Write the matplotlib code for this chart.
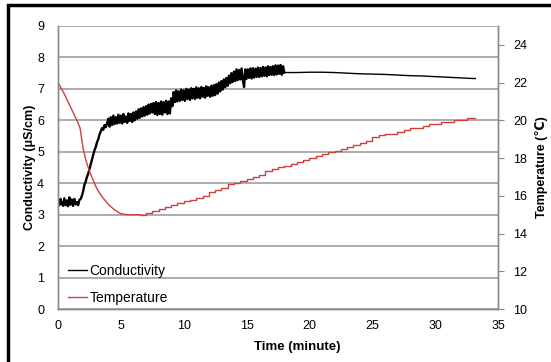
import numpy as np
import matplotlib
matplotlib.use("Agg")
import matplotlib.pyplot as plt
from matplotlib.patches import Rectangle

plt.rcParams['font.family'] = ['Liberation Sans', 'DejaVu Sans']

# Conductivity (uS/cm): noisy logger readings every 0.1 min from 0 to 18 min
cond_noisy = [
    3.45, 3.30, 3.50, 3.35, 3.28, 3.52, 3.30, 3.45, 3.27, 3.55,
    3.32, 3.48, 3.28, 3.50, 3.33, 3.40, 3.30, 3.47, 3.50, 3.60,
    3.75, 3.95, 4.05, 4.20, 4.30, 4.45, 4.60, 4.75, 4.90, 5.05,
    5.15, 5.30, 5.40, 5.55, 5.65, 5.75, 5.70, 5.85, 5.78, 5.90,
    6.05, 5.80, 6.10, 5.85, 6.15, 5.88, 6.10, 5.90, 6.18, 5.92,
    6.15, 5.90, 6.20, 5.95, 6.12, 5.92, 6.22, 5.98, 6.20, 5.95,
    6.25, 6.00, 6.28, 6.05, 6.35, 6.08, 6.38, 6.12, 6.42, 6.15,
    6.45, 6.18, 6.50, 6.22, 6.52, 6.25, 6.55, 6.20, 6.58, 6.17,
    6.55, 6.20, 6.60, 6.18, 6.58, 6.25, 6.62, 6.20, 6.60, 6.22,
    6.70, 6.45, 6.90, 6.58, 6.95, 6.60, 6.92, 6.62, 6.98, 6.65,
    6.95, 6.62, 7.00, 6.68, 6.98, 6.65, 7.02, 6.70, 7.00, 6.68,
    7.05, 6.72, 7.02, 6.70, 7.06, 6.75, 7.03, 6.72, 7.08, 6.78,
    7.05, 6.75, 7.10, 6.78, 7.12, 6.80, 7.15, 6.85, 7.20, 6.92,
    7.25, 6.98, 7.30, 7.05, 7.35, 7.10, 7.42, 7.18, 7.50, 7.22,
    7.55, 7.25, 7.62, 7.28, 7.60, 7.30, 7.65, 7.30, 7.06, 7.62,
    7.32, 7.62, 7.35, 7.65, 7.33, 7.66, 7.36, 7.64, 7.38, 7.68,
    7.38, 7.66, 7.40, 7.70, 7.42, 7.68, 7.40, 7.72, 7.44, 7.70,
    7.45, 7.72, 7.44, 7.75, 7.46, 7.74, 7.48, 7.76, 7.45, 7.72,
    7.52,
]
t_noisy = np.round(np.arange(len(cond_noisy)) * 0.1, 1)

# smoother part after 18 min
t_smooth = [18.5, 19, 20, 21, 22, 23, 24, 25, 26, 27, 28, 29, 30, 31, 32, 33, 33.2]
cond_smooth = [7.52, 7.52, 7.53, 7.53, 7.52, 7.50, 7.48, 7.47, 7.46, 7.44,
               7.42, 7.41, 7.39, 7.37, 7.35, 7.33, 7.33]

# Temperature (C): cooling part then stepwise warming
t_temp = [0, 0.5, 1.0, 1.5, 1.75, 2.0, 2.25, 2.5, 2.75, 3.0, 3.25, 3.5, 4.0, 4.5, 5.0, 5.5,
          6.5, 7.0, 7.5, 8.0, 8.5, 9.0, 9.5, 10.0, 10.5, 11.0, 11.5, 12.0, 12.5,
          13.0, 13.5, 14.0, 14.5, 15.0, 15.5, 16.0, 16.5, 17.0, 17.5, 18.0, 18.5,
          19.0, 19.5, 20.0, 20.5, 21.0, 21.5, 22.0, 22.5, 23.0, 23.5, 24.0, 24.5,
          25.0, 25.5, 26.0, 26.5, 27.0, 27.5, 28.0, 28.5, 29.0, 29.5, 30.0, 30.5,
          31.0, 31.5, 32.0, 32.5, 33.2]
temp = [22.0, 21.4, 20.7, 20.0, 19.6, 18.5, 17.8, 17.3, 16.9, 16.5, 16.2, 15.95, 15.55, 15.25, 15.05, 15.0,
        15.0, 15.1, 15.2, 15.3, 15.4, 15.5, 15.6, 15.7, 15.8, 15.9, 16.0, 16.2, 16.3,
        16.4, 16.6, 16.7, 16.8, 16.9, 17.0, 17.1, 17.3, 17.4, 17.5, 17.6, 17.7,
        17.8, 17.9, 18.0, 18.1, 18.2, 18.3, 18.4, 18.5, 18.6, 18.7, 18.8, 18.9,
        19.1, 19.2, 19.3, 19.3, 19.4, 19.5, 19.6, 19.6, 19.7, 19.8, 19.8, 19.9,
        19.9, 20.0, 20.0, 20.1, 20.1]
i_step = t_temp.index(6.5)

red = '#cc4040'
grid_c = '#a6a6a6'
spine_c = '#8c8c8c'

fig = plt.figure(figsize=(5.51, 3.62), dpi=100)
ax = fig.add_axes([0.1053, 0.1464, 0.7985, 0.7818])
ax2 = ax.twinx()

# noisy part drawn a bit heavier, like the dense logger trace
ax.plot(t_noisy, cond_noisy, color='black', lw=1.7)
ax.plot(np.concatenate([t_noisy[-1:], t_smooth]),
        np.concatenate([cond_noisy[-1:], cond_smooth]), color='black', lw=1.0)
ax2.plot(t_temp[:i_step + 1], temp[:i_step + 1], color=red, lw=1.0)
ax2.plot(t_temp[i_step:], temp[i_step:], color=red, lw=1.0, drawstyle='steps-post')

ax.set_xlim(0, 35)
ax.set_ylim(0, 9)
ax2.set_ylim(10, 25)
ax.set_xticks(range(0, 36, 5))
ax.set_yticks(range(0, 10))
ax2.set_yticks(range(10, 25, 2))

ax.grid(axis='y', color=grid_c, lw=1.3)
ax.set_axisbelow(True)
for a in (ax, ax2):
    a.spines['top'].set_visible(False)
    for s in ('left', 'right', 'bottom'):
        a.spines[s].set_color(spine_c)
        a.spines[s].set_linewidth(1.0)

ax.tick_params(axis='x', length=0, labelsize=9, pad=8)
ax.tick_params(axis='y', length=0, labelsize=9, pad=10)
ax2.tick_params(axis='y', length=4, color=spine_c, labelsize=9, pad=7)

ax.set_xlabel('Time (minute)', fontsize=9.5, fontweight='bold')
ax.xaxis.set_label_coords((297.5 - 58) / 440, -0.113)
ax.set_ylabel('Conductivity (μS/cm)', fontsize=9, fontweight='bold')
ax.yaxis.set_label_coords(-0.05, 0.5)
ax2.set_ylabel('Temperature (℃)', fontsize=9, fontweight='bold')
ax2.yaxis.set_label_coords(1.083, 0.5)

# legend handles built from the plotted lines
h_c = plt.Line2D([], [], color='black', lw=1.0)
h_t = plt.Line2D([], [], color=red, lw=1.0)
ax.legend([h_c, h_t], ['Conductivity', 'Temperature'], loc='lower left',
          bbox_to_anchor=(0.0227, 0.015), borderaxespad=0, borderpad=0,
          frameon=False, fontsize=10, handlelength=1.4, handletextpad=0.15,
          labelspacing=0.9)

# outer frame
fig.add_artist(Rectangle((8 / 551, -0.1), 1.2, 1.1 - 5 / 362,
                         transform=fig.transFigure, fill=False,
                         edgecolor='black', lw=2.5))

fig.savefig('out.png', dpi=100)
